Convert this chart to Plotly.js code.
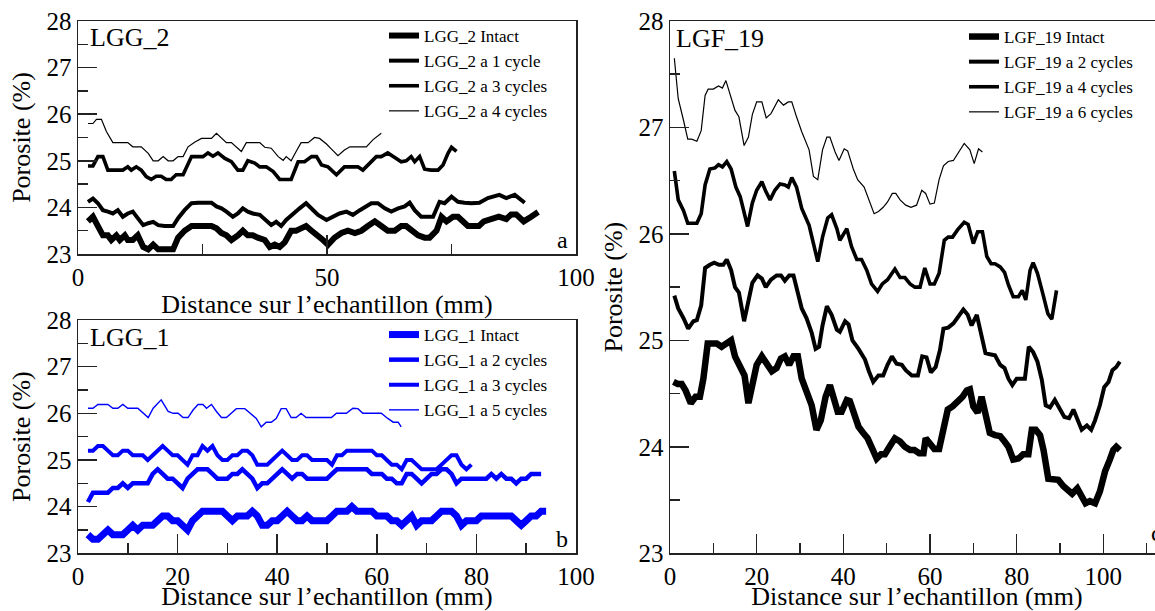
<!DOCTYPE html>
<html>
<head>
<meta charset="utf-8">
<script src="https://cdn.plot.ly/plotly-3.0.1.min.js"></script>
<style>
html, body { margin: 0; padding: 0; overflow: hidden; background: #fff; }
#chart { width: 1170px; height: 611px; }
</style>
</head>
<body>
<div id="chart"></div>
<script>
// ---------- Panel a : LGG_2 ----------
const lgg2IntactX = [2,3,4,5,6,6.7,7.7,8.4,9.4,10,11,12,13.1,14.1,15.1,16.1,17.4,19.1,20.1,21.4,22.8,24.1,25.4,26.8,27.8,28.8,29.8,30.8,32.1,33.1,34.1,35.1,36.1,37.5,38.5,39.5,40.5,41.5,42.8,43.8,44.8,45.8,46.9,48.2,49.2,50.2,51.5,52.9,54.2,55.6,56.9,58.2,59.6,60.9,62.2,63.6,64.9,65.9,66.9,68.3,69.6,70.6,72,73,74,75.3,76.3,77.3,78.3,79.7,80.5,81.5,83,84.5,86,87,88,89.5,91,92.4];
const lgg2IntactY = [23.7,23.8,23.6,23.4,23.4,23.3,23.4,23.3,23.4,23.3,23.3,23.4,23.15,23.1,23.2,23.1,23.1,23.1,23.35,23.5,23.6,23.6,23.6,23.6,23.55,23.45,23.4,23.3,23.4,23.5,23.4,23.4,23.35,23.3,23.15,23.2,23.15,23.25,23.5,23.5,23.55,23.6,23.5,23.4,23.3,23.2,23.35,23.45,23.5,23.45,23.5,23.6,23.7,23.6,23.5,23.5,23.6,23.6,23.5,23.4,23.35,23.35,23.5,23.8,23.7,23.8,23.8,23.7,23.6,23.6,23.6,23.7,23.75,23.8,23.75,23.85,23.85,23.7,23.8,23.9];
const lgg2C1X = [2,3,4,5,6,7,8,9,10,11,12,13.1,14.1,15.1,16.1,17.4,19.1,20.1,21.4,22.8,24.1,25.4,26.8,27.8,28.8,29.8,31.1,32.1,33.1,34.1,35.1,36.5,37.8,38.8,39.8,40.8,41.8,43.2,44.5,45.8,46.9,48.2,49.9,51.2,52.5,53.9,55.2,56.6,57.9,58.9,60.2,61.6,62.9,64.3,65.6,66.6,67.6,68.9,70.3,71.3,72.6,73.6,75,76.3,77.6,79,80.6,82.3,84.6,86,87.7,89.7];
const lgg2C1Y = [24.12,24.19,24.09,23.94,23.91,23.87,23.94,23.8,23.87,23.91,23.77,23.62,23.66,23.69,23.62,23.6,23.6,23.77,23.94,24.09,24.1,24.1,24.1,24.02,23.98,23.91,23.8,23.87,23.98,23.91,23.87,23.84,23.73,23.62,23.69,23.6,23.73,23.87,23.98,24.09,23.98,23.84,23.73,23.8,23.87,23.91,23.84,23.94,24.02,24.09,24.09,23.98,23.91,23.98,24.02,24.1,23.94,23.8,23.8,23.8,24.12,24.09,24.23,24.12,24.1,24.09,24.1,24.2,24.27,24.2,24.27,24.1];
const lgg2C3X = [2,3,4,5,6,7,8,9,10,10.7,11.7,12.7,13.7,14.7,15.7,16.7,17.7,18.7,19.7,21.1,22.8,23.8,25.1,26.1,27.1,28.1,29.5,30.8,32.1,33.1,34.1,35.5,36.5,37.8,39.2,40.5,41.8,42.8,44.2,45.5,46.9,47.9,48.9,50.2,51.9,53.5,54.9,56.2,57.2,58.6,59.9,60.9,62.2,63.6,64.9,65.9,66.9,67.6,68.6,69.6,70.9,72.3,73.3,74.3,75,76];
const lgg2C3Y = [24.89,24.89,25.09,25.09,24.8,24.8,24.8,24.8,24.87,24.8,24.87,24.8,24.66,24.6,24.67,24.67,24.6,24.6,24.7,24.7,25.09,25.09,25.09,25.17,25.1,25.17,25.05,24.98,24.8,24.8,25.0,24.95,24.87,24.87,24.77,24.6,24.6,24.6,24.98,24.98,25.09,25.09,24.91,24.87,24.7,24.87,24.87,24.87,24.8,24.95,25.09,25.09,25.17,25.07,24.98,25.0,25.09,24.98,25.09,24.82,24.8,24.8,24.91,25.16,25.29,25.2];
const lgg2C4X = [2,3,3.7,4.7,5.7,7,8,10,11,12.7,14.1,15.1,16.1,17.1,18.1,19.1,20.1,21.1,22.1,23.4,24.8,26.8,27.8,28.8,29.8,30.8,31.8,32.8,33.8,35.1,36.5,37.5,38.8,40.2,41.2,41.8,42.8,43.8,44.8,46.2,47.5,48.5,49.9,50.9,52.2,53.5,54.6,56.2,57.9,59.2,60.9];
const lgg2C4Y = [25.8,25.8,25.89,25.89,25.63,25.39,25.39,25.39,25.3,25.3,25.16,25.0,25.0,25.09,25.0,25.0,25.09,25.09,25.3,25.4,25.48,25.48,25.59,25.48,25.39,25.39,25.3,25.2,25.39,25.39,25.39,25.29,25.27,25.09,25.01,25.09,25.0,25.2,25.39,25.39,25.5,25.48,25.36,25.25,25.11,25.23,25.3,25.3,25.3,25.45,25.59];

// ---------- Panel b : LGG_1 (samples every 1 mm) ----------
const lgg1Start = 2, lgg1Step = 1;
const lgg1IntactY = [23.4,23.3,23.3,23.4,23.5,23.4,23.4,23.4,23.5,23.6,23.5,23.6,23.6,23.6,23.7,23.8,23.8,23.7,23.7,23.6,23.5,23.7,23.8,23.9,23.9,23.9,23.9,23.9,23.8,23.7,23.8,23.8,23.8,23.9,23.8,23.6,23.6,23.7,23.7,23.8,23.9,23.8,23.7,23.7,23.8,23.7,23.7,23.7,23.7,23.8,23.9,23.9,23.9,24.0,23.9,23.9,23.9,23.9,23.8,23.8,23.8,23.7,23.7,23.6,23.7,23.8,23.6,23.7,23.7,23.7,23.8,23.9,23.9,23.9,23.8,23.6,23.7,23.7,23.7,23.8,23.8,23.8,23.8,23.8,23.8,23.8,23.7,23.6,23.7,23.8,23.8,23.9,23.9];
const lgg1C2Y = [24.1,24.3,24.3,24.3,24.3,24.4,24.4,24.5,24.4,24.5,24.5,24.5,24.5,24.7,24.8,24.7,24.6,24.6,24.5,24.4,24.6,24.7,24.8,24.8,24.8,24.7,24.6,24.6,24.6,24.7,24.7,24.8,24.7,24.6,24.4,24.5,24.5,24.6,24.7,24.8,24.7,24.6,24.7,24.7,24.6,24.6,24.6,24.6,24.6,24.7,24.8,24.8,24.8,24.8,24.8,24.8,24.8,24.7,24.7,24.7,24.6,24.6,24.5,24.5,24.7,24.7,24.6,24.5,24.6,24.7,24.7,24.8,24.8,24.7,24.5,24.6,24.6,24.6,24.6,24.6,24.6,24.7,24.6,24.7,24.6,24.6,24.5,24.6,24.6,24.7,24.7,24.7];
const lgg1C3Y = [25.2,25.2,25.3,25.3,25.2,25.1,25.1,25.2,25.2,25.1,25.1,25.1,25.0,25.1,25.2,25.3,25.2,25.1,25.1,25.0,24.9,25.1,25.1,25.3,25.2,25.3,25.1,25.0,25.0,25.1,25.1,25.2,25.2,25.1,24.9,24.9,24.9,25.0,25.1,25.2,25.1,25.0,25.0,25.1,25.1,25.0,25.0,25.0,25.0,24.9,25.1,25.1,25.2,25.2,25.2,25.2,25.2,25.2,25.1,25.1,25.0,24.9,24.9,24.8,25.0,25.0,24.9,24.8,24.8,24.8,24.8,24.9,25.0,25.1,25.1,24.9,24.8,24.9];
const lgg1C5X = [2,3,4,6,7,8,9,10,12,14.1,15.1,16.7,18.1,19.1,20.1,21.1,22.1,23.1,24.1,25.1,25.8,26.8,27.8,28.8,29.8,30.8,31.8,33.5,34.5,35.8,36.8,37.8,38.8,39.8,40.8,41.8,42.8,43.8,44.8,45.8,46.9,48.9,50.9,51.9,53.9,55.2,56.2,57.2,58.9,60.9,62.2,63.3,64.3,64.9];
const lgg1C5Y = [26.11,26.11,26.19,26.19,26.11,26.11,26.19,26.11,26.11,25.91,26.11,26.29,26.04,26.0,26.0,25.91,25.91,26.07,26.19,26.19,26.11,26.19,26.04,25.91,25.91,26.0,26.1,26.1,26.0,25.89,25.71,25.81,25.81,25.89,26.1,26.1,25.91,25.91,26.0,25.91,25.91,25.91,25.91,26.0,26.0,26.11,26.1,26.0,26.0,26.0,25.89,25.81,25.81,25.71];

// ---------- Panel c : LGF_19 ----------
const lgf19IntactX = [0.8,1.8,2.7,3.6,4.8,5.9,6.9,7.7,8.7,9.6,10.8,11.9,13.1,14.1,15.0,16.2,17.2,18.1,19.0,20.0,21.2,22.1,23.5,24.6,25.6,26.5,27.5,28.5,29.5,30.4,31.5,32.7,33.8,34.8,35.9,36.9,37.7,38.7,39.6,40.8,41.5,42.5,43.5,44.6,45.6,46.5,47.7,48.7,49.6,50.8,51.9,53.1,54.2,55.4,56.4,57.5,58.5,59.0,60.0,61.0,62.1,63.1,64.1,65.2,66.4,67.5,68.5,69.2,70.0,71.0,71.9,72.8,73.8,75.0,76.2,77.2,78.1,79.2,80.4,81.5,82.7,83.5,84.4,85.4,86.2,87.3,88.5,89.6,90.8,91.9,92.8,94.0,95.0,95.9,96.9,98.1,99.2,100.4,101.5,102.3,103.0,103.8];
const lgf19IntactY = [24.61,24.59,24.59,24.53,24.41,24.47,24.47,24.64,24.97,24.97,24.97,24.94,24.98,25.0,24.85,24.74,24.67,24.41,24.61,24.77,24.85,24.79,24.71,24.74,24.83,24.85,24.77,24.85,24.85,24.64,24.53,24.39,24.16,24.25,24.47,24.58,24.47,24.33,24.33,24.44,24.43,24.31,24.19,24.13,24.08,24.0,23.89,23.93,23.93,24.01,24.08,24.05,24.0,23.97,23.97,23.94,23.94,24.08,24.03,23.98,23.98,24.16,24.35,24.38,24.42,24.47,24.53,24.54,24.38,24.32,24.47,24.3,24.13,24.11,24.1,24.05,24.0,23.88,23.89,23.93,23.93,24.16,24.16,24.11,23.97,23.7,23.69,23.69,23.63,23.58,23.56,23.61,23.52,23.47,23.49,23.47,23.58,23.77,23.88,23.97,24.0,23.97];
const lgf19C2X = [1.0,1.9,3.1,4.2,5.4,6.2,7.2,8.1,9.2,10.2,11.3,12.3,13.1,14.1,15.0,15.9,17.1,18.1,19.0,20.2,21.2,22.1,23.3,24.6,25.6,26.5,27.5,28.5,29.5,30.4,31.5,32.7,33.6,34.4,35.2,36.2,37.3,38.5,39.2,40.4,41.2,42.1,43.5,45.0,45.9,46.9,48.1,49.2,50.2,51.2,52.3,53.5,54.4,55.8,57.2,58.2,59.2,60.2,61.3,62.3,63.1,64.2,65.4,66.4,67.7,68.7,69.6,70.8,71.8,72.8,73.8,75.0,76.2,77.2,78.1,79.0,80.0,81.0,81.9,82.8,83.8,84.8,85.8,86.7,87.7,88.8,90.0,91.0,92.1,93.1,94.2,95.0,96.2,97.2,98.1,99.2,100.2,101.2,102.1,103.0,103.8];
const lgf19C2Y = [25.42,25.3,25.21,25.11,25.18,25.19,25.33,25.68,25.71,25.73,25.71,25.71,25.76,25.66,25.5,25.45,25.18,25.35,25.54,25.61,25.58,25.5,25.57,25.61,25.61,25.56,25.61,25.61,25.44,25.3,25.21,25.07,24.92,24.94,25.14,25.32,25.24,25.1,25.08,25.18,25.15,25.0,24.92,24.82,24.71,24.61,24.67,24.67,24.77,24.85,24.78,24.77,24.72,24.67,24.67,24.85,24.84,24.7,24.75,24.91,25.11,25.12,25.16,25.21,25.29,25.24,25.14,25.24,25.07,24.88,24.87,24.86,24.77,24.74,24.64,24.58,24.64,24.64,24.64,24.94,24.89,24.8,24.63,24.39,24.37,24.44,24.35,24.28,24.27,24.35,24.24,24.16,24.2,24.16,24.25,24.39,24.56,24.61,24.72,24.75,24.8];
const lgf19C4X = [1.0,1.9,3.1,4.1,5.0,6.2,7.2,8.1,9.2,10.4,11.2,12.1,13.1,14.1,15.2,16.2,17.9,19.0,20.0,21.2,22.1,23.1,24.2,25.4,26.5,27.3,28.1,29.2,30.4,32.1,33.1,34.1,35.2,36.4,37.3,38.5,39.2,40.8,41.9,43.1,44.2,45.4,46.5,47.9,49.0,50.2,51.9,53.1,54.2,55.4,56.5,57.7,58.8,60.0,61.0,62.1,63.3,64.2,65.2,66.4,67.9,68.8,70.0,71.0,72.1,73.1,74.1,75.0,76.2,77.2,78.1,79.2,80.4,81.3,82.1,83.1,83.8,84.8,85.9,87.2,88.1,89.2];
const lgf19C4Y = [26.59,26.32,26.22,26.1,26.1,26.1,26.19,26.46,26.61,26.62,26.65,26.63,26.68,26.61,26.44,26.35,26.07,26.29,26.41,26.49,26.4,26.32,26.41,26.47,26.46,26.44,26.53,26.44,26.24,26.08,25.91,25.74,25.97,26.15,26.18,26.05,25.94,26.05,25.88,25.76,25.76,25.66,25.53,25.46,25.53,25.57,25.67,25.59,25.59,25.53,25.5,25.5,25.68,25.53,25.53,25.63,25.94,25.97,25.97,26.04,26.11,26.09,25.91,26.02,26.02,25.79,25.72,25.72,25.69,25.64,25.52,25.41,25.41,25.47,25.38,25.66,25.73,25.63,25.46,25.25,25.2,25.47];
const lgf19C6X = [1.0,1.9,3.1,4.1,5.0,6.2,7.2,8.1,8.8,10.0,11.2,12.1,12.9,13.8,15.0,15.9,17.1,18.1,19.0,20.0,21.2,22.2,23.3,25.0,26.2,27.3,28.1,29.2,30.4,32.1,33.1,34.1,35.2,36.2,36.9,38.1,39.0,40.2,41.0,42.3,43.3,44.8,45.9,47.1,48.1,49.2,50.2,51.3,52.1,53.1,54.4,55.6,56.9,58.1,59.0,60.0,61.0,62.1,63.1,64.2,65.4,66.5,67.9,69.2,70.2,71.2,72.1];
const lgf19C6Y = [27.65,27.27,27.07,26.89,26.89,26.87,26.97,27.3,27.36,27.36,27.39,27.37,27.44,27.32,27.16,27.1,26.83,26.91,27.12,27.24,27.24,27.09,27.13,27.26,27.21,27.24,27.24,27.1,26.96,26.79,26.54,26.51,26.79,26.91,26.91,26.77,26.69,26.8,26.78,26.61,26.51,26.44,26.32,26.19,26.21,26.25,26.3,26.38,26.38,26.32,26.27,26.25,26.27,26.41,26.38,26.28,26.29,26.51,26.64,26.68,26.69,26.76,26.85,26.79,26.66,26.8,26.77];

// Labels
const namesA = ['LGG_2 Intact','LGG_2 a 1 cycle','LGG_2 a 3 cycles','LGG_2 a 4 cycles'];
const namesB = ['LGG_1 Intact','LGG_1 a 2 cycles','LGG_1 a 3 cycles','LGG_1 a 5 cycles'];
const namesC = ['LGF_19 Intact','LGF_19 a 2 cycles','LGF_19 a 4 cycles','LGF_19 a 6 cycles'];
const xTitle = 'Distance sur l\u2019echantillon (mm)';
const yTitle = 'Porosite (%)';

const FONT = '"Liberation Serif", serif';
const BLACK = '#000000';
const BLUE = '#0000ff';

function tr(x, y, name, w, color, xa, ya, leg) {
  return { type: 'scatter', mode: 'lines', x: x, y: y, name: name,
    line: { color: color, width: w }, xaxis: xa, yaxis: ya, legend: leg, hoverinfo: 'skip' };
}
function trS(x0, dx, y, name, w, color, xa, ya, leg) {
  return { type: 'scatter', mode: 'lines', x0: x0, dx: dx, y: y, name: name,
    line: { color: color, width: w }, xaxis: xa, yaxis: ya, legend: leg, hoverinfo: 'skip' };
}

const traces = [
  tr(lgg2IntactX, lgg2IntactY, namesA[0], 6, BLACK, 'x', 'y', 'legend'),
  tr(lgg2C1X, lgg2C1Y, namesA[1], 4, BLACK, 'x', 'y', 'legend'),
  tr(lgg2C3X, lgg2C3Y, namesA[2], 3.6, BLACK, 'x', 'y', 'legend'),
  tr(lgg2C4X, lgg2C4Y, namesA[3], 1.2, BLACK, 'x', 'y', 'legend'),
  trS(lgg1Start, lgg1Step, lgg1IntactY, namesB[0], 7, BLUE, 'x2', 'y2', 'legend2'),
  trS(lgg1Start, lgg1Step, lgg1C2Y, namesB[1], 4.5, BLUE, 'x2', 'y2', 'legend2'),
  trS(lgg1Start, lgg1Step, lgg1C3Y, namesB[2], 4, BLUE, 'x2', 'y2', 'legend2'),
  tr(lgg1C5X, lgg1C5Y, namesB[3], 1.4, BLUE, 'x2', 'y2', 'legend2'),
  tr(lgf19IntactX, lgf19IntactY, namesC[0], 6.5, BLACK, 'x3', 'y3', 'legend3'),
  tr(lgf19C2X, lgf19C2Y, namesC[1], 4, BLACK, 'x3', 'y3', 'legend3'),
  tr(lgf19C4X, lgf19C4Y, namesC[2], 3.6, BLACK, 'x3', 'y3', 'legend3'),
  tr(lgf19C6X, lgf19C6Y, namesC[3], 1.2, BLACK, 'x3', 'y3', 'legend3')
];

const W = 1170, H = 611;
function px(v) { return v / W; }
function py(v) { return (H - v) / H; }

function xax(domain, range, dtick, minorDtick, anchor) {
  return {
    domain: domain, range: range, anchor: anchor, dtick: dtick, tick0: 0,
    showgrid: false, zeroline: false, showline: true, mirror: true,
    linecolor: '#222', linewidth: 1.5,
    ticks: 'inside', ticklen: 19, tickwidth: 1.5, tickcolor: '#222',
    minor: { dtick: minorDtick, ticks: 'inside', ticklen: 10, tickwidth: 1.5, tickcolor: '#222', showgrid: false },
    tickfont: { family: FONT, size: 25, color: '#000' },
    title: { text: xTitle, font: { family: FONT, size: 26, color: '#000' }, standoff: 4 },
    automargin: false, fixedrange: true
  };
}
function yax(domain, anchor) {
  return {
    domain: domain, range: [23, 28], anchor: anchor, dtick: 1, tick0: 23,
    showgrid: false, zeroline: false, showline: true, mirror: true,
    linecolor: '#222', linewidth: 1.5,
    ticks: 'inside', ticklen: 19, tickwidth: 1.5, tickcolor: '#222',
    minor: { dtick: 0.5, ticks: 'inside', ticklen: 10, tickwidth: 1.5, tickcolor: '#222', showgrid: false },
    tickfont: { family: FONT, size: 25, color: '#000' },
    title: { text: yTitle, font: { family: FONT, size: 26, color: '#000' }, standoff: 8 },
    automargin: false, fixedrange: true
  };
}
function leg(x, y) {
  return { x: x, y: y, xanchor: 'left', yanchor: 'top', bgcolor: 'rgba(0,0,0,0)',
    font: { family: FONT, size: 17, color: '#000' }, tracegroupgap: 0, itemwidth: 30 };
}
function ann(text, x, y, size, xanchor) {
  return { text: text, xref: 'paper', yref: 'paper', x: px(x), y: py(y), xanchor: xanchor || 'left',
    yanchor: 'middle', showarrow: false, font: { family: FONT, size: size, color: '#000' } };
}

const layout = {
  width: W, height: H,
  margin: { l: 0, r: 0, t: 0, b: 0 },
  paper_bgcolor: '#fff', plot_bgcolor: '#fff',
  font: { family: FONT, color: '#000' },
  showlegend: true,
  xaxis: xax([px(78), px(576)], [0, 100], 50, 25, 'y'),
  yaxis: yax([py(254), py(21)], 'x'),
  xaxis2: xax([px(78), px(576)], [0, 100], 20, 10, 'y2'),
  yaxis2: yax([py(553.3), py(320)], 'x2'),
  xaxis3: xax([px(670), px(1164)], [0, 114], 20, 10, 'y3'),
  yaxis3: yax([py(553.3), py(21)], 'x3'),
  legend: leg(px(384), py(18)),
  legend2: leg(px(384), py(317)),
  legend3: leg(px(964), py(19)),
  annotations: [
    ann('LGG_2', 88, 37, 26),
    ann('LGG_1', 88, 337, 26),
    ann('LGF_19', 674, 39, 26),
    ann('a', 562, 240, 24, 'center'),
    ann('b', 562, 539, 24, 'center'),
    ann('c', 1156, 533, 24, 'center')
  ]
};

Plotly.newPlot('chart', traces, layout, { displayModeBar: false, staticPlot: true });
</script>
</body>
</html>
